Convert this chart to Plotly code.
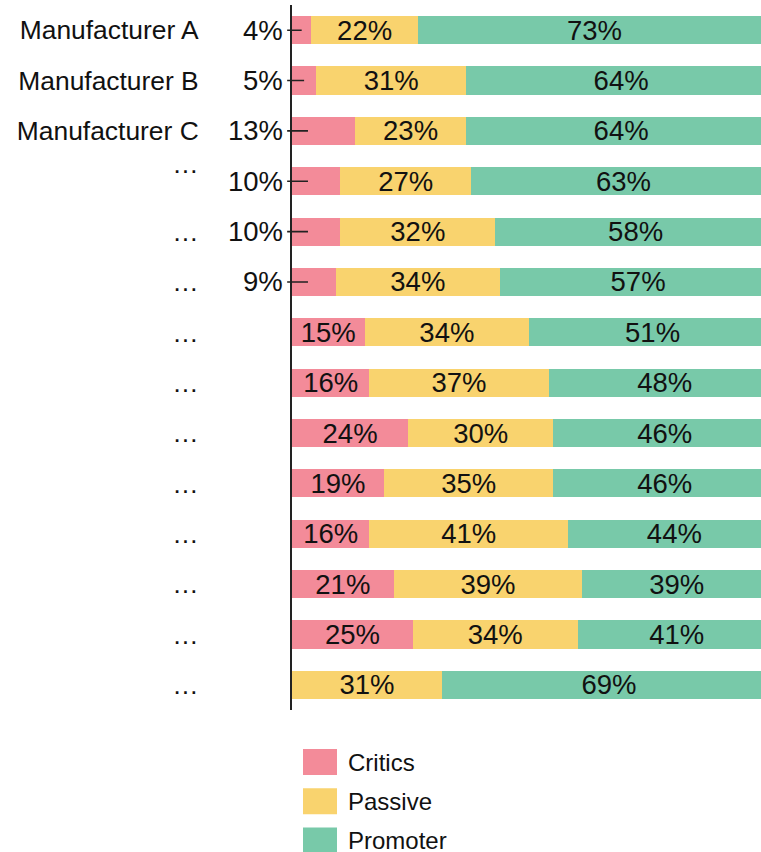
import plotly.graph_objects as go

# Net promoter breakdown per manufacturer (percent of respondents)
labels = ["Manufacturer A", "Manufacturer B", "Manufacturer C",
          "…<br> ", "…", "…", "…", "…", "…", "…", "…", "…", "…", "…"]
critics = [4, 5, 13, 10, 10, 9, 15, 16, 24, 19, 16, 21, 25, 0]
passive = [22, 31, 23, 27, 32, 34, 34, 37, 30, 35, 41, 39, 34, 31]
promoter = [73, 64, 64, 63, 58, 57, 51, 48, 46, 46, 44, 39, 41, 69]

series_names = ["Critics", "Passive", "Promoter"]
colors = ["#F38B99", "#F9D36E", "#78C9A9"]

FONT = "Liberation Sans, Arial, Helvetica, sans-serif"
W, H = 761, 852
M_L, M_R, M_T, M_B = 292, 0, 5, 142
PLOT_W = W - M_L - M_R
PLOT_H = H - M_T - M_B

# small critic shares get their label outside the bar with a leader line
SMALL = 14

rows = list(range(len(labels)))

fig = go.Figure()
for name, vals, col in zip(series_names, [critics, passive, promoter], colors):
    if name == "Critics":
        txt = [f"{v}%" if v >= SMALL else "" for v in vals]
    else:
        txt = [f"{v}%" if v > 0 else "" for v in vals]
    fig.add_trace(go.Bar(
        y=rows, x=vals, name=name, orientation="h",
        marker=dict(color=col, line=dict(width=0)),
        text=txt, textposition="inside", insidetextanchor="middle",
        textangle=0, constraintext="none",
        textfont=dict(family=FONT, size=27.5, color="#111"),
        hoverinfo="skip", showlegend=False,
    ))

annotations = []
for i, v in enumerate(critics):
    if 0 < v < SMALL:
        annotations.append(dict(
            x=min(v / 2, 3.3), y=i, xref="x", yref="y",
            ax=-1.0, ay=i, axref="x", ayref="y",
            text=f"{v}%", showarrow=True, arrowhead=0, arrowwidth=1.6,
            arrowcolor="#222", standoff=0, startstandoff=0,
            xanchor="right", yanchor="middle", borderpad=3,
            font=dict(family=FONT, size=27.5, color="#111"),
        ))


# legend drawn as swatches below the plot (paper coordinates)
def py(px):
    return (M_T + PLOT_H - px) / PLOT_H


def pxx(px):
    return (px - M_L) / PLOT_W


shapes = []
sw_top, sw_h, sw_step = 749, 26, 39.3
for k, (name, col) in enumerate(zip(series_names, colors)):
    top = sw_top + k * sw_step
    shapes.append(dict(type="rect", xref="paper", yref="paper",
                       x0=pxx(303), x1=pxx(337), y0=py(top), y1=py(top + sw_h),
                       fillcolor=col, line=dict(width=0)))
    annotations.append(dict(xref="paper", yref="paper", x=pxx(346),
                            y=py(top + sw_h / 2), text=name, showarrow=False,
                            xanchor="left", yanchor="middle",
                            font=dict(family=FONT, size=24, color="#111")))

fig.update_layout(
    width=W, height=H, barmode="stack", bargap=0.44,
    margin=dict(l=M_L, r=M_R, t=M_T, b=M_B, pad=0),
    paper_bgcolor="white", plot_bgcolor="white",
    font=dict(family=FONT, color="#111"),
    xaxis=dict(range=[0, 100 * PLOT_W / 484], visible=False, fixedrange=True),
    yaxis=dict(tickvals=rows, ticktext=labels, autorange=False,
               range=[len(labels) - 0.5, -0.5],
               showline=True, linecolor="#222", linewidth=2,
               ticks="", showgrid=False, zeroline=False,
               ticklabelstandoff=86,
               tickfont=dict(family=FONT, size=26.4, color="#111")),
    shapes=shapes, annotations=annotations,
)

fig.write_html("out.html")
